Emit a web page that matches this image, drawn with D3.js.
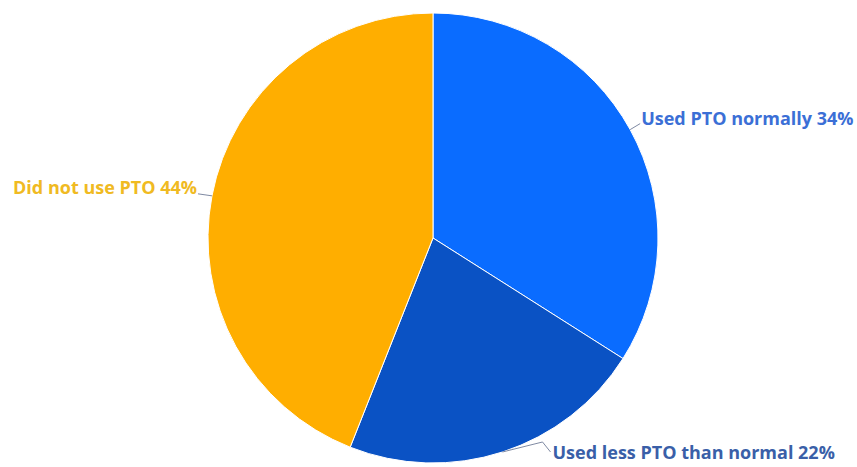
<!DOCTYPE html>
<html>
<head>
<meta charset="utf-8">
<script src="https://cdn.jsdelivr.net/npm/d3@7"></script>
<style>
  body { margin: 0; background: #fff; }
  text { font-family: "Open Sans", sans-serif; font-weight: 700; font-size: 18px; }
</style>
</head>
<body>
<svg id="chart" width="857" height="467"></svg>
<script>
// data
var categories = ["Used PTO normally", "Used less PTO than normal", "Did not use PTO"];
var values = [34, 22, 44];
var sliceColors = ["#0a6cff", "#0a52c4", "#ffae00"];
var labelColors = ["#3b6fd6", "#3a5fa8", "#f0ba22"];

var svg = d3.select("#chart");
var cx = 433, cy = 238, radius = 225;

var data = categories.map(function(c, i) { return { name: c, value: values[i], i: i }; });

var pie = d3.pie().sort(null).value(function(d) { return d.value; });
var arc = d3.arc().innerRadius(0).outerRadius(radius);

var g = svg.append("g").attr("transform", "translate(" + cx + "," + cy + ")");
var arcs = pie(data);

g.selectAll("path.slice")
  .data(arcs)
  .enter().append("path")
  .attr("class", "slice")
  .attr("d", arc)
  .attr("fill", function(d) { return sliceColors[d.data.i]; })
  .attr("stroke", "#fff")
  .attr("stroke-width", 1);

// leader lines and labels: elbow offsets per slice
var leader = [
  { pts: [[10, -6]], anchor: "start", dx: 1, dy: 1 },
  { pts: [[40, -10], [48, 0]], anchor: "start", dx: 2, dy: 7 },
  { pts: [[-14, -2]], anchor: "end", dx: -1, dy: 0 }
];

arcs.forEach(function(d) {
  var a = (d.startAngle + d.endAngle) / 2;
  var x0 = Math.sin(a) * radius, y0 = -Math.cos(a) * radius;
  var L = leader[d.data.i];
  var line = [[x0, y0]];
  L.pts.forEach(function(p) { line.push([x0 + p[0], y0 + p[1]]); });
  g.append("path")
    .attr("d", d3.line()(line))
    .attr("fill", "none")
    .attr("stroke", "#7f8aa3")
    .attr("stroke-width", 1);
  var end = line[line.length - 1];
  g.append("text")
    .attr("x", end[0] + L.dx)
    .attr("y", end[1] + L.dy)
    .attr("text-anchor", L.anchor)
    .attr("fill", labelColors[d.data.i])
    .text(d.data.name + " " + d.data.value + "%");
});
</script>
</body>
</html>
